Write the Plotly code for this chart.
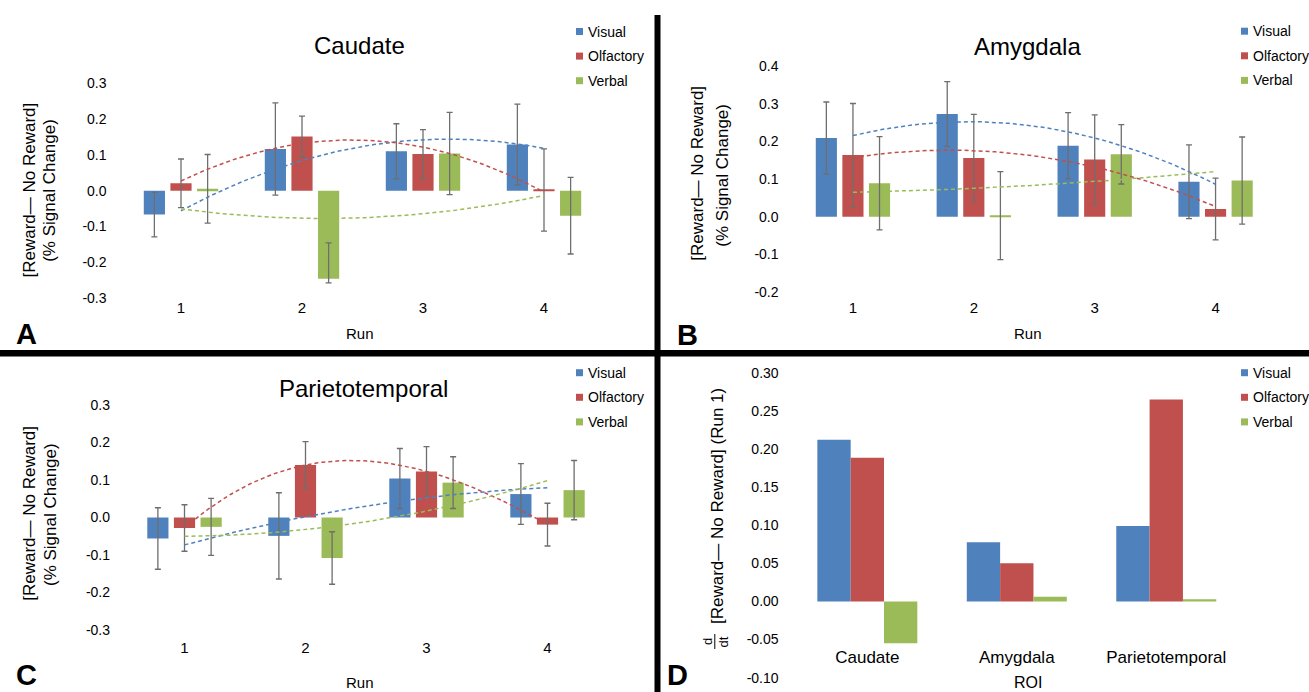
import numpy as np
import plotly.graph_objects as go

W, H = 1309, 692

# ---------------- data ----------------
SERIES = ["Visual", "Olfactory", "Verbal"]
RUNS = [1, 2, 3, 4]
RUN_LABELS = ["1", "2", "3", "4"]
ROIS = ["Caudate", "Amygdala", "Parietotemporal"]

# Panel A: Caudate
caudate_visual = [-0.067, 0.1165, 0.110, 0.129]
caudate_olfactory = [0.0205, 0.151, 0.1025, 0.002]
caudate_verbal = [0.005, -0.246, 0.104, -0.070]
caudate_visual_err = [0.062, 0.129, 0.077, 0.113]
caudate_olfactory_err = [0.068, 0.057, 0.068, 0.115]
caudate_verbal_err = [0.096, 0.100, 0.115, 0.107]
caudate_verbal_err_minus = [0.096, 0.012, 0.115, 0.107]

# Panel B: Amygdala
amygdala_visual = [0.209, 0.273, 0.189, 0.093]
amygdala_olfactory = [0.164, 0.156, 0.152, 0.0205]
amygdala_verbal = [0.089, 0.003, 0.166, 0.096]
amygdala_visual_err = [0.096, 0.086, 0.088, 0.098]
amygdala_olfactory_err = [0.137, 0.116, 0.119, 0.082]
amygdala_verbal_err = [0.124, 0.117, 0.079, 0.116]

# Panel C: Parietotemporal
parieto_visual = [-0.056, -0.049, 0.104, 0.0625]
parieto_olfactory = [-0.028, 0.140, 0.123, -0.019]
parieto_verbal = [-0.025, -0.108, 0.093, 0.073]
parieto_visual_err = [0.082, 0.115, 0.080, 0.081]
parieto_olfactory_err = [0.062, 0.0625, 0.066, 0.057]
parieto_verbal_err = [0.076, 0.070, 0.069, 0.079]

# Panel D: d/dt at Run 1 per ROI
deriv_visual = [0.212, 0.0776, 0.099]
deriv_olfactory = [0.1886, 0.050, 0.265]
deriv_verbal = [-0.0548, 0.0063, 0.0029]

# tick labels
TICKS_A = [-0.3, -0.2, -0.1, 0.0, 0.1, 0.2, 0.3]
TICKTEXT_A = ["-0.3", "-0.2", "-0.1", "0.0", "0.1", "0.2", "0.3"]
TICKS_B = [-0.2, -0.1, 0.0, 0.1, 0.2, 0.3, 0.4]
TICKTEXT_B = ["-0.2", "-0.1", "0.0", "0.1", "0.2", "0.3", "0.4"]
TICKS_D = [-0.10, -0.05, 0.00, 0.05, 0.10, 0.15, 0.20, 0.25, 0.30]
TICKTEXT_D = ["-0.10", "-0.05", "0.00", "0.05", "0.10", "0.15", "0.20", "0.25", "0.30"]

TITLE_A, TITLE_B, TITLE_C = "Caudate", "Amygdala", "Parietotemporal"
YTITLE_1 = "[Reward— No Reward]"
YTITLE_2 = "(% Signal Change)"
YTITLE_D = "[Reward— No Reward] (Run 1)"

# ---------------- style ----------------
COLORS = ["#4F81BD", "#C0504D", "#9BBB59"]
FONT = "Liberation Sans, Arial, sans-serif"
ERR_COLOR = "#6e6e6e"
ZERO_COLOR = "#D9D9D9"


def px(x):
    return x / W


def py(y):
    return 1 - y / H


panels = {
    "A": dict(ax="", xd=(120.5, 604.5), yd=(298.0, 83.3), yr=(-0.3, 0.3),
              tv=TICKS_A, tt=TICKTEXT_A, lab_y=297.0),
    "B": dict(ax="2", xd=(792.5, 1276.0), yd=(291.9, 66.3), yr=(-0.2, 0.4),
              tv=TICKS_B, tt=TICKTEXT_B, lab_y=297.0),
    "C": dict(ax="3", xd=(124.0, 608.0), yd=(630.0, 405.0), yr=(-0.3, 0.3),
              tv=TICKS_A, tt=TICKTEXT_A, lab_y=636.7),
    "D": dict(ax="4", xd=(792.6, 1241.0), yd=(677.7, 372.7), yr=(-0.10, 0.30),
              tv=TICKS_D, tt=TICKTEXT_D, lab_y=645.0),
}

fig = go.Figure()

BAR_W = 0.175
SLOT = 0.22
run_data = {
    "A": ([caudate_visual, caudate_olfactory, caudate_verbal],
          [caudate_visual_err, caudate_olfactory_err, caudate_verbal_err],
          [caudate_visual_err, caudate_olfactory_err, caudate_verbal_err_minus],
          [2, 2, 2]),
    "B": ([amygdala_visual, amygdala_olfactory, amygdala_verbal],
          [amygdala_visual_err, amygdala_olfactory_err, amygdala_verbal_err],
          [amygdala_visual_err, amygdala_olfactory_err, amygdala_verbal_err],
          [2, 2, 2]),
    "C": ([parieto_visual, parieto_olfactory, parieto_verbal],
          [parieto_visual_err, parieto_olfactory_err, parieto_verbal_err],
          [parieto_visual_err, parieto_olfactory_err, parieto_verbal_err],
          [2, 3, 2]),
}

for key, (vals, errs, errms, orders) in run_data.items():
    a = panels[key]["ax"]
    for i in range(3):
        center = (i - 1) * SLOT
        fig.add_trace(go.Bar(
            x=RUNS, y=vals[i], name=SERIES[i], width=BAR_W, offset=center - BAR_W / 2,
            marker=dict(color=COLORS[i], line=dict(width=0)),
            error_y=dict(type="data", symmetric=False, array=errs[i], arrayminus=errms[i],
                         color=ERR_COLOR, thickness=1.3, width=3),
            xaxis="x" + a, yaxis="y" + a, showlegend=False))
    for i in range(3):
        coefs = np.polyfit(RUNS, vals[i], orders[i])
        xs = np.linspace(RUNS[0], RUNS[-1], 80)
        fig.add_trace(go.Scatter(
            x=xs, y=np.polyval(coefs, xs), mode="lines",
            line=dict(color=COLORS[i], width=1.5, dash="4px,3px"),
            xaxis="x" + a, yaxis="y" + a, showlegend=False, hoverinfo="skip"))

D_W = 0.223
for i, vals in enumerate([deriv_visual, deriv_olfactory, deriv_verbal]):
    center = (i - 1) * D_W
    fig.add_trace(go.Bar(
        x=ROIS, y=vals, name=SERIES[i], width=D_W, offset=center - D_W / 2,
        marker=dict(color=COLORS[i], line=dict(width=0)),
        xaxis="x4", yaxis="y4", showlegend=False))

layout = dict(
    width=W, height=H, margin=dict(l=0, r=0, t=0, b=0, pad=0, autoexpand=False),
    paper_bgcolor="white", plot_bgcolor="white",
    barmode="overlay", showlegend=False,
    font=dict(family=FONT, color="#000000", size=14),
)

overlay_idx = 5
for key, p in panels.items():
    a = p["ax"]
    xdom = [px(p["xd"][0]), px(p["xd"][1])]
    ydom = [py(p["yd"][0]), py(p["yd"][1])]
    if key == "D":
        xr = [-0.5, 2.5]
        xax = dict(type="category", categoryorder="array", categoryarray=ROIS,
                   tickfont=dict(size=17))
        bounds = [-0.5, 0.5, 1.5, 2.5]
    else:
        xr = [0.5, 4.5]
        xax = dict(type="linear", tickvals=RUNS, ticktext=RUN_LABELS,
                   tickfont=dict(size=15))
        bounds = [0.5, 1.5, 2.5, 3.5, 4.5]
    xax.update(domain=xdom, range=xr, anchor="free", position=py(p["lab_y"]),
               showline=False, showgrid=False, zeroline=False, ticks="",
               automargin=False, fixedrange=True)
    layout["xaxis" + a] = xax
    layout["yaxis" + a] = dict(
        domain=ydom, range=list(p["yr"]), anchor="x" + a,
        tickvals=p["tv"], ticktext=p["tt"], tickfont=dict(size=14),
        showline=False, showgrid=False, zeroline=False, ticks="",
        ticklabelstandoff=13, automargin=False, fixedrange=True)
    # zero line with category boundary ticks
    y0, y1 = p["yr"]
    zpos = ydom[0] + (0 - y0) / (y1 - y0) * (ydom[1] - ydom[0])
    layout["xaxis%d" % overlay_idx] = dict(
        overlaying="x" + a, anchor="free", position=zpos, range=xr, type="linear",
        showline=True, linecolor=ZERO_COLOR, linewidth=1.5,
        ticks="outside", ticklen=4, tickwidth=1.2, tickcolor=ZERO_COLOR,
        tickvals=bounds, showticklabels=False, showgrid=False, zeroline=False,
        automargin=False, fixedrange=True)
    overlay_idx += 1

fig.update_layout(**layout)

ann = []
shapes = []


def text(x, y, s, size, **kw):
    d = dict(x=px(x), y=py(y), xref="paper", yref="paper", text=s, showarrow=False,
             font=dict(family=FONT, size=size, color="#000000"),
             xanchor="center", yanchor="middle")
    d.update(kw)
    ann.append(d)


# titles
text(359, 45.6, TITLE_A, 24)
text(1027, 46.6, TITLE_B, 24)
text(363, 388.3, TITLE_C, 24)

# y-axis titles
text(29.5, 190, YTITLE_1, 17, textangle=-90)
text(50.0, 190.8, YTITLE_2, 17, textangle=-90)
text(697.4, 173.3, YTITLE_1, 17, textangle=-90)
text(721.7, 175, YTITLE_2, 17, textangle=-90)
text(29.5, 513.3, YTITLE_1, 17, textangle=-90)
text(50.0, 515, YTITLE_2, 17, textangle=-90)
text(717.5, 506.5, YTITLE_D, 17, textangle=-90)
text(707.5, 641.5, "d", 13, textangle=-90)
text(723.0, 641.5, "dt", 13, textangle=-90)
shapes.append(dict(type="line", xref="paper", yref="paper",
                   x0=px(714.8), x1=px(714.8), y0=py(634), y1=py(649),
                   line=dict(color="#000000", width=1)))

# x-axis titles
text(359.5, 333, "Run", 15)
text(1027.5, 333, "Run", 15)
text(360, 682.5, "Run", 15)
text(1027.5, 682.5, "ROI", 16)

# panel letters
text(14, 334, "<b>A</b>", 29, xanchor="left")
text(675, 335, "<b>B</b>", 29, xanchor="left")
text(14, 674.5, "<b>C</b>", 29, xanchor="left")
text(664.5, 674.5, "<b>D</b>", 29, xanchor="left")

# legends
legend_pos = [(576, 31.5), (1241, 31.2), (576, 372.7), (1241, 372.7)]
for lx, ly in legend_pos:
    for i, name in enumerate(SERIES):
        yc = ly + i * 24.6
        shapes.append(dict(type="rect", xref="paper", yref="paper",
                           x0=px(lx), x1=px(lx + 7), y0=py(yc + 3.5), y1=py(yc - 3.5),
                           fillcolor=COLORS[i], line=dict(width=0)))
        text(lx + 10, yc, name, 14, xanchor="left")

# divider lines
shapes.append(dict(type="line", xref="paper", yref="paper",
                   x0=px(657.5), x1=px(657.5), y0=py(15), y1=py(692),
                   line=dict(color="#000000", width=6)))
shapes.append(dict(type="line", xref="paper", yref="paper",
                   x0=0, x1=1, y0=py(353.3), y1=py(353.3),
                   line=dict(color="#000000", width=6.5)))

fig.update_layout(annotations=ann, shapes=shapes)

fig.write_html("out.html", config={"displayModeBar": False},
               post_script="document.body.style.margin='0';document.body.style.overflow='hidden';")
